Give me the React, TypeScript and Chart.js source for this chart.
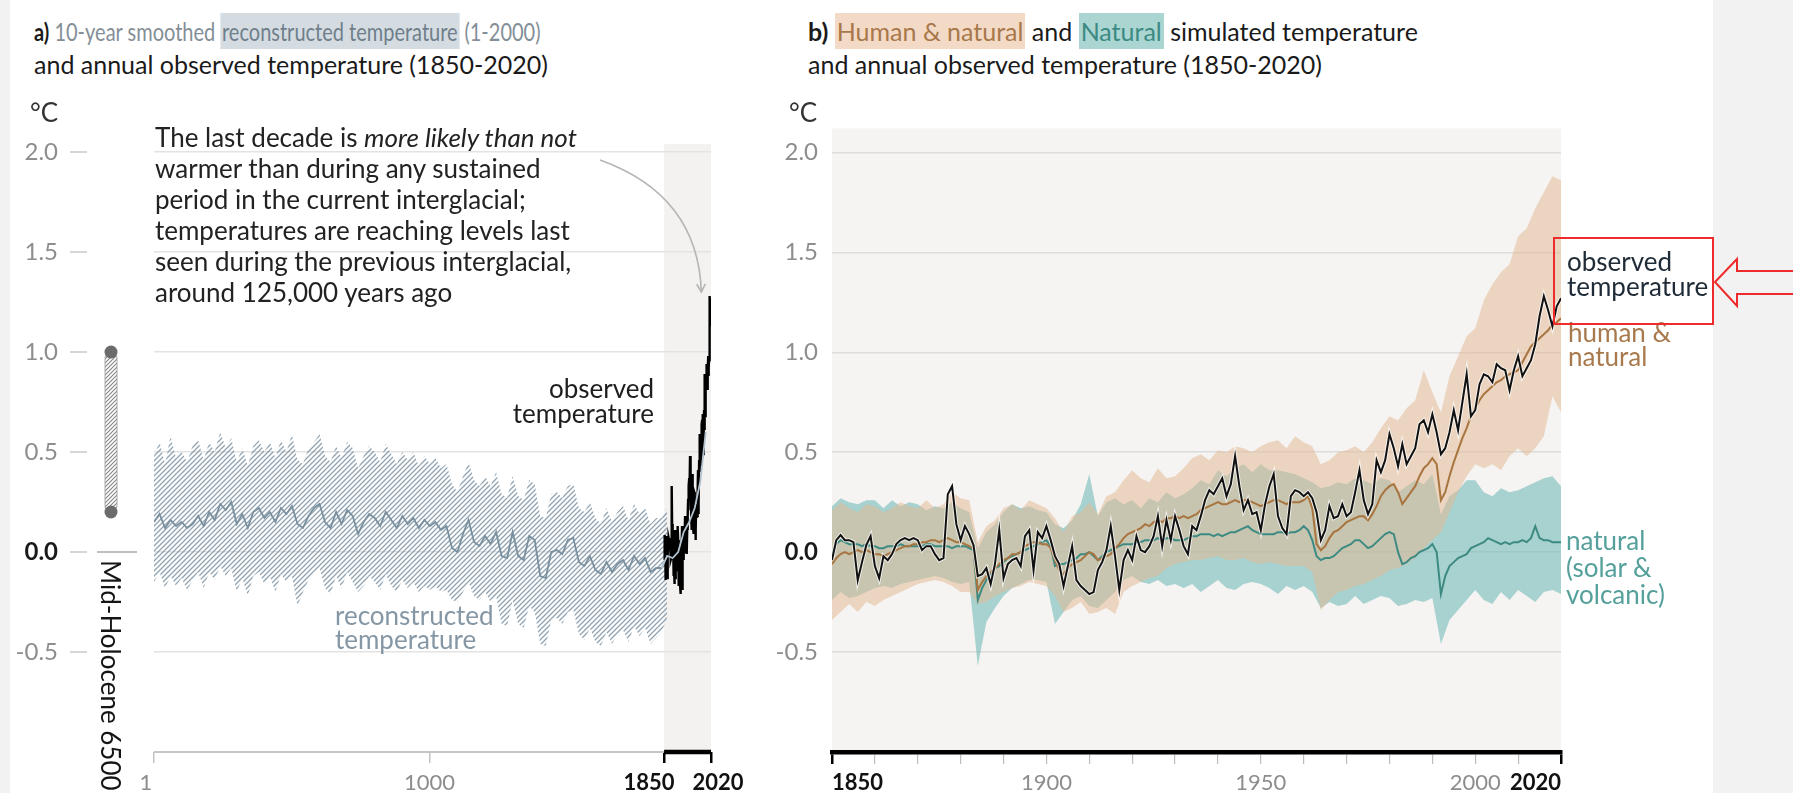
import React, { useEffect, useRef } from "react";
import { Chart, registerables } from "chart.js";

Chart.register(...registerables);

const FONT = "Lato, 'Open Sans', sans-serif";

// ---------- Panel a: 10-year smoothed reconstruction (every 20 years from year 1) ----------
const RECON_START = 1;
const RECON_STEP = 20;
const reconCenter = [
  0.15, 0.19, 0.12, 0.16, 0.13, 0.15, 0.12, 0.14, 0.18, 0.13,
  0.2, 0.16, 0.24, 0.21, 0.25, 0.14, 0.19, 0.12, 0.2, 0.22,
  0.17, 0.2, 0.15, 0.22, 0.19, 0.23, 0.14, 0.12, 0.18, 0.22,
  0.24, 0.15, 0.12, 0.2, 0.14, 0.21, 0.18, 0.09, 0.15, 0.19,
  0.17, 0.13, 0.2, 0.16, 0.12, 0.18, 0.14, 0.17, 0.12, 0.16,
  0.13, 0.15, 0.11, 0.13, 0.02, 0.0, 0.09, 0.16, 0.05, 0.03,
  0.08, 0.04, 0.1, -0.02, -0.03, 0.1, -0.02, -0.04, 0.08, 0.06,
  -0.12, -0.13, 0.0, 0.01, -0.01, 0.06, 0.07, -0.05, -0.07, -0.02,
  -0.09, -0.11, -0.05, -0.1, -0.06, -0.04, -0.09, -0.02, -0.06, -0.03,
  -0.1, -0.08, -0.08, -0.02, -0.03, 0.0, 0.1, 0.15, 0.22, 0.35, 0.6,
];
const reconUpper = [
  0.48, 0.55, 0.44, 0.58, 0.47, 0.5, 0.45, 0.53, 0.56, 0.46,
  0.55, 0.5, 0.6, 0.52, 0.57, 0.45, 0.52, 0.43, 0.53, 0.56,
  0.5, 0.55, 0.47, 0.56, 0.5, 0.59, 0.46, 0.44, 0.52, 0.55,
  0.59, 0.48, 0.45, 0.53, 0.47, 0.55, 0.52, 0.42, 0.48, 0.53,
  0.5, 0.45, 0.54, 0.49, 0.44, 0.5, 0.46, 0.5, 0.43, 0.48,
  0.44, 0.47, 0.42, 0.44, 0.34, 0.3, 0.38, 0.45, 0.36, 0.33,
  0.38, 0.33, 0.4, 0.29, 0.27, 0.38, 0.28, 0.26, 0.36, 0.34,
  0.18, 0.17, 0.29, 0.3, 0.27, 0.33, 0.34, 0.22, 0.2, 0.25,
  0.17, 0.14, 0.22, 0.15, 0.2, 0.23, 0.16, 0.24, 0.19, 0.22,
  0.14, 0.17, 0.17, 0.22,
];
const reconLower = [
  -0.15, -0.1, -0.18, -0.12, -0.17, -0.13, -0.19, -0.14, -0.1, -0.18,
  -0.1, -0.14, -0.07, -0.12, -0.08, -0.2, -0.13, -0.22, -0.12, -0.1,
  -0.16, -0.12, -0.2, -0.11, -0.15, -0.12, -0.27, -0.2, -0.14, -0.1,
  -0.08, -0.18, -0.21, -0.12, -0.18, -0.1, -0.15, -0.2, -0.17, -0.12,
  -0.15, -0.19, -0.11, -0.17, -0.2, -0.14, -0.18, -0.15, -0.2, -0.17,
  -0.19, -0.17, -0.2, -0.19, -0.24, -0.25, -0.2, -0.15, -0.22, -0.24,
  -0.2, -0.25, -0.22, -0.36, -0.37, -0.24, -0.36, -0.38, -0.27, -0.3,
  -0.46, -0.47, -0.34, -0.33, -0.36, -0.3, -0.29, -0.41, -0.44, -0.38,
  -0.45, -0.47, -0.4, -0.46, -0.41, -0.39, -0.45, -0.37, -0.42, -0.38,
  -0.46, -0.43, -0.4, -0.33,
];

// ---------- Annual series 1850-2020 ----------
const OBS_START = 1850;
const observed = [
  -0.04, 0.06, 0.085, 0.06, 0.06, 0.05, -0.14, -0.05, 0.035, 0.08,
  -0.07, -0.13, -0.02, -0.04, -0.01, 0.04, 0.06, 0.07, 0.06, 0.07,
  0.06, 0.01, 0.03, 0.03, -0.01, -0.04, -0.03, 0.29, 0.33, 0.14,
  0.06, 0.13, 0.09, 0.035, -0.12, -0.11, -0.08, -0.16, -0.06, 0.11,
  -0.13, -0.06, -0.04, -0.03, -0.07, 0.08, 0.11, -0.09, 0.1, 0.07,
  0.13, 0.06, -0.02, -0.06, -0.17, -0.07, 0.03, -0.14, -0.17, -0.19,
  -0.21, -0.2, -0.09, -0.05, 0.01, 0.13, -0.02, -0.19, -0.04, 0.01,
  -0.04, 0.08, 0.01, 0.0, 0.03, 0.08, 0.18, 0.03, 0.16, 0.06,
  0.18, 0.11, 0.03, -0.01, 0.13, 0.11, 0.18, 0.26, 0.31, 0.29,
  0.33, 0.37, 0.28, 0.34, 0.48, 0.33, 0.21, 0.26, 0.19, 0.2,
  0.11, 0.24, 0.33, 0.39, 0.18, 0.12, 0.09, 0.28, 0.31, 0.3,
  0.28, 0.3, 0.27, 0.2, 0.06, 0.11, 0.23, 0.17, 0.18, 0.24,
  0.18, 0.2, 0.3, 0.41, 0.26, 0.19, 0.24, 0.46, 0.4, 0.46,
  0.59, 0.52, 0.43, 0.54, 0.44, 0.48, 0.52, 0.64, 0.66, 0.6,
  0.69, 0.6, 0.49, 0.52, 0.6, 0.71, 0.61, 0.75, 0.89, 0.68,
  0.71, 0.84, 0.89, 0.88, 0.85, 0.94, 0.92, 0.91, 0.81, 0.91,
  0.98, 0.88, 0.92, 0.96, 1.04, 1.18, 1.28, 1.21, 1.13, 1.23,
  1.27,
];
const humanNatural = [
  -0.06, -0.03, -0.01, 0.0, -0.01, 0.0, 0.01, 0.0, 0.01, 0.0,
  -0.01, -0.01, -0.02, -0.01, 0.0, 0.01, 0.02, 0.03, 0.03, 0.04,
  0.04, 0.05, 0.05, 0.06, 0.06, 0.05, 0.06, 0.07, 0.06, 0.05,
  0.05, 0.04, 0.03, 0.02, -0.19, -0.15, -0.12, -0.1, -0.08, -0.06,
  -0.04, -0.03, -0.01, -0.01, 0.0, 0.03, 0.04, 0.05, 0.05, 0.04,
  0.04, 0.02, -0.04, -0.09, -0.11, -0.08, -0.06, -0.05, -0.04, -0.02,
  0.0, -0.01, -0.04, -0.03, -0.02, -0.01, 0.02, 0.04, 0.07, 0.09,
  0.1, 0.11, 0.12, 0.14, 0.13, 0.15, 0.16, 0.15, 0.17, 0.17,
  0.18, 0.17, 0.18, 0.17, 0.18, 0.19, 0.21, 0.22, 0.23, 0.24,
  0.25, 0.24, 0.24, 0.25, 0.26, 0.25, 0.26, 0.26, 0.25, 0.24,
  0.23, 0.24, 0.25, 0.26, 0.26, 0.25, 0.24, 0.25, 0.25, 0.25,
  0.26, 0.28, 0.22, 0.04, 0.01, 0.03, 0.07, 0.1, 0.11, 0.13,
  0.15, 0.16, 0.17, 0.18, 0.18, 0.16, 0.19, 0.23, 0.28, 0.31,
  0.33, 0.34, 0.3, 0.24, 0.27, 0.3, 0.33, 0.38, 0.42, 0.44,
  0.47, 0.44, 0.26, 0.3, 0.38, 0.45, 0.51, 0.57, 0.62, 0.68,
  0.72, 0.76, 0.79, 0.81, 0.83, 0.85, 0.86, 0.88, 0.89, 0.9,
  0.91, 0.95, 0.99, 1.03, 1.05, 1.07, 1.09, 1.11, 1.14, 1.15,
  1.17,
];
const naturalOnly = [
  -0.01, 0.04, 0.06, 0.05, 0.04, 0.04, 0.04, 0.03, 0.04, 0.03,
  0.03, 0.02, 0.02, 0.03, 0.03, 0.03, 0.04, 0.03, 0.03, 0.03,
  0.03, 0.03, 0.04, 0.04, 0.03, 0.03, 0.03, 0.03, 0.02, 0.03,
  0.03, 0.03, 0.02, 0.01, -0.24, -0.18, -0.14, -0.11, -0.08, -0.07,
  -0.05, -0.03, -0.02, -0.01, 0.0, 0.01, 0.02, 0.03, 0.04, 0.05,
  0.06, 0.03, -0.07, -0.06, -0.06, -0.05, -0.04, -0.03, -0.01, -0.01,
  0.0, -0.02, -0.04, -0.02, 0.0, 0.01, 0.02, 0.03, 0.04, 0.04,
  0.04, 0.05, 0.05, 0.06, 0.06, 0.06, 0.07, 0.06, 0.07, 0.07,
  0.06, 0.06, 0.06, 0.07, 0.08, 0.08, 0.09, 0.09, 0.09, 0.08,
  0.09, 0.08, 0.09, 0.1, 0.1, 0.11, 0.12, 0.13, 0.11, 0.1,
  0.09, 0.09, 0.09, 0.09, 0.1, 0.1, 0.09, 0.1, 0.1, 0.11,
  0.13, 0.11, 0.06, -0.02, -0.04, -0.03, -0.03, -0.02, 0.0, 0.02,
  0.03, 0.04, 0.06, 0.06, 0.04, 0.02, 0.03, 0.05, 0.07, 0.09,
  0.1, 0.09, 0.0, -0.06, -0.05, -0.03, -0.02, 0.0, 0.01, 0.02,
  0.04, 0.0, -0.21, -0.12, -0.07, -0.05, -0.03, -0.02, -0.01, 0.02,
  0.03, 0.04, 0.05, 0.07, 0.06, 0.05, 0.04, 0.05, 0.04, 0.05,
  0.05, 0.06, 0.05, 0.07, 0.13, 0.07, 0.06, 0.06, 0.05, 0.05,
  0.05,
];

// ---------- Simulation ranges (every 2 years 1850-2020) ----------
const BAND_STEP = 2;
const hnUpper = [
  0.21, 0.25, 0.22, 0.2, 0.24, 0.23, 0.2, 0.22, 0.25, 0.23,
  0.22, 0.26, 0.22, 0.24, 0.3, 0.27, 0.26, 0.05, 0.13, 0.16,
  0.22, 0.24, 0.21, 0.26, 0.24, 0.22, 0.17, 0.1, 0.18, 0.2,
  0.25, 0.19, 0.28, 0.3, 0.36, 0.41, 0.37, 0.35, 0.42, 0.37,
  0.38, 0.42, 0.47, 0.49, 0.46, 0.51, 0.5, 0.53, 0.52, 0.5,
  0.53, 0.55, 0.56, 0.52, 0.58, 0.55, 0.53, 0.44, 0.46, 0.5,
  0.51, 0.53, 0.5, 0.55, 0.62, 0.68, 0.66, 0.72, 0.76, 0.91,
  0.8, 0.7, 0.88, 0.98, 1.08, 1.12, 1.26, 1.34, 1.4, 1.44,
  1.58, 1.62, 1.72, 1.8, 1.88, 1.86,
];
const hnLower = [
  -0.34, -0.3, -0.26, -0.3, -0.25, -0.27, -0.24, -0.22, -0.2, -0.18,
  -0.16, -0.15, -0.14, -0.15, -0.17, -0.2, -0.2, -0.26, -0.25, -0.22,
  -0.2, -0.18, -0.17, -0.15, -0.16, -0.17, -0.22, -0.3, -0.28, -0.25,
  -0.31, -0.3, -0.28, -0.31, -0.2, -0.17, -0.15, -0.13, -0.12, -0.08,
  -0.06, -0.05, -0.04, -0.04, -0.03, -0.02, -0.04, -0.04, -0.03, -0.05,
  -0.06, -0.05, -0.06, -0.07, -0.07, -0.07, -0.1, -0.29, -0.24, -0.2,
  -0.19, -0.17, -0.16, -0.14, -0.12, -0.09, -0.08, -0.06, -0.03, 0.02,
  0.06, 0.1, 0.2, 0.3, 0.38, 0.44, 0.42, 0.44, 0.41, 0.48,
  0.52, 0.48, 0.52, 0.58, 0.78, 0.7,
];
const natUpper = [
  0.23, 0.27, 0.25, 0.24, 0.26, 0.26, 0.22, 0.26, 0.23, 0.25,
  0.24, 0.21, 0.23, 0.22, 0.25, 0.22, 0.2, 0.02, 0.1, 0.14,
  0.2, 0.24, 0.22, 0.23, 0.21, 0.2, 0.14, 0.12, 0.16, 0.24,
  0.39, 0.18, 0.25, 0.27, 0.24, 0.26, 0.22, 0.27, 0.25, 0.3,
  0.27, 0.29, 0.32, 0.36, 0.34, 0.41, 0.38, 0.42, 0.44, 0.4,
  0.44, 0.41, 0.41, 0.4, 0.39, 0.37, 0.35, 0.32, 0.33, 0.35,
  0.34, 0.37, 0.36, 0.34, 0.37, 0.36, 0.3, 0.33, 0.36, 0.34,
  0.39, 0.19, 0.28, 0.31, 0.36, 0.36, 0.3, 0.28, 0.32, 0.3,
  0.31, 0.33, 0.35, 0.37, 0.38, 0.33,
];
const natLower = [
  -0.24, -0.2, -0.23, -0.22, -0.2, -0.18, -0.17, -0.18, -0.16, -0.15,
  -0.14, -0.13, -0.12, -0.13, -0.15, -0.16, -0.15, -0.57, -0.35, -0.28,
  -0.22, -0.18, -0.16, -0.14, -0.14, -0.15, -0.36, -0.3, -0.24, -0.22,
  -0.27, -0.28, -0.24, -0.2, -0.14, -0.12, -0.15, -0.16, -0.14, -0.17,
  -0.16, -0.18, -0.16, -0.2, -0.17, -0.14, -0.18, -0.19, -0.16, -0.15,
  -0.16, -0.18, -0.21, -0.17, -0.19, -0.17, -0.2, -0.28, -0.25, -0.27,
  -0.26, -0.22, -0.26, -0.24, -0.22, -0.23, -0.27, -0.26, -0.24, -0.25,
  -0.23, -0.46, -0.34, -0.29, -0.24, -0.19, -0.24, -0.26, -0.2, -0.24,
  -0.19, -0.22, -0.25, -0.2, -0.19, -0.21,
];

// ---------- Axes ----------
const Y_MIN = -1.0;
const Y_MAX = 2.12;
const yTickValues = [-0.5, 0, 0.5, 1, 1.5, 2];
const aXTickValues = [1, 1000, 1850, 2020];
const aXTickLabels = ["1", "1000", "1850", "2020"];
const aXLabelShift = [-8, 0, -15, 7];
const bXTickValues = [1850, 1860, 1870, 1880, 1890, 1900, 1910, 1920, 1930, 1940, 1950, 1960, 1970, 1980, 1990, 2000, 2010, 2020];
const bXLabelValues = [1850, 1900, 1950, 2000, 2020];
const midHoloceneRange = [0.2, 1.0];

function pts(arr: number[], start: number, step: number) {
  return arr.map((y, i) => ({ x: start + i * step, y }));
}

function makeHatch(color: string, size: number, lw: number) {
  const c = document.createElement("canvas");
  c.width = size;
  c.height = size;
  const g = c.getContext("2d")!;
  g.strokeStyle = color;
  g.lineWidth = lw;
  g.beginPath();
  g.moveTo(-1, size + 1);
  g.lineTo(size + 1, -1);
  g.moveTo(-size / 2 - 1, size / 2 + 1);
  g.lineTo(size / 2 + 1, -size / 2 - 1);
  g.moveTo(size / 2 - 1, size * 1.5 + 1);
  g.lineTo(size * 1.5 + 1, size / 2 - 1);
  g.stroke();
  return g.createPattern(c, "repeat")!;
}

const yTickFont = (c: any) => ({ family: FONT, size: 24, weight: c.tick && c.tick.value === 0 ? "bold" : "normal" });
const yTickColor = (c: any) => (c.tick && c.tick.value === 0 ? "#1a1a1a" : "#8d8d8d");

export default function App() {
  const aRef = useRef<HTMLCanvasElement>(null);
  const bRef = useRef<HTMLCanvasElement>(null);

  useEffect(() => {
    const reconHatch = makeHatch("rgba(125,147,164,0.85)", 5, 1.3);
    const barHatch = makeHatch("rgba(120,120,120,0.9)", 4, 1.1);

    const panelAPlugin = {
      id: "panelA",
      beforeDraw(chart: any) {
        const { ctx, chartArea: ca, scales } = chart;
        const x = scales.x, y = scales.y;
        const x0 = x.getPixelForValue(1850), x1 = x.getPixelForValue(2020);
        const top = y.getPixelForValue(2.04);
        ctx.save();
        ctx.fillStyle = "#f3f2f1";
        ctx.fillRect(x0, top, x1 - x0, ca.bottom - top);
        ctx.restore();
      },
      afterDraw(chart: any) {
        const { ctx, chartArea: ca, scales } = chart;
        const x = scales.x, y = scales.y;
        ctx.save();
        const yb = ca.bottom;
        ctx.lineCap = "butt";
        ctx.strokeStyle = "#c6c6c6";
        ctx.lineWidth = 2;
        ctx.beginPath();
        ctx.moveTo(x.getPixelForValue(1), yb);
        ctx.lineTo(x.getPixelForValue(1850), yb);
        ctx.stroke();
        ctx.strokeStyle = "#000";
        ctx.lineWidth = 4.5;
        ctx.beginPath();
        ctx.moveTo(x.getPixelForValue(1850), yb);
        ctx.lineTo(x.getPixelForValue(2020), yb);
        ctx.stroke();
        ctx.textAlign = "center";
        ctx.textBaseline = "middle";
        aXTickValues.forEach((v, i) => {
          const bold = v >= 1850;
          ctx.font = `${bold ? "bold " : ""}22px ${FONT}`;
          ctx.fillStyle = bold ? "#111" : "#8d8d8d";
          ctx.fillText(aXTickLabels[i], x.getPixelForValue(v) + aXLabelShift[i], yb + 31);
        });
        ctx.strokeStyle = "#c8c8c8";
        ctx.lineWidth = 1.5;
        yTickValues.forEach((v) => {
          const py = y.getPixelForValue(v);
          ctx.beginPath();
          ctx.moveTo(70, py);
          ctx.lineTo(87, py);
          ctx.stroke();
        });
        const y0 = y.getPixelForValue(0);
        ctx.strokeStyle = "#aaaaaa";
        ctx.beginPath();
        ctx.moveTo(97, y0);
        ctx.lineTo(137, y0);
        ctx.stroke();
        const mx = 111;
        const yT = y.getPixelForValue(midHoloceneRange[1]);
        const yB = y.getPixelForValue(midHoloceneRange[0]);
        ctx.fillStyle = "#ffffff";
        ctx.beginPath();
        ctx.roundRect(mx - 6, yT, 12, yB - yT, 6);
        ctx.fill();
        ctx.fillStyle = barHatch;
        ctx.fill();
        ctx.strokeStyle = "rgba(150,150,150,0.8)";
        ctx.lineWidth = 1;
        ctx.stroke();
        ctx.fillStyle = "#6b6b6b";
        [yT, yB].forEach((py) => {
          ctx.beginPath();
          ctx.arc(mx, py, 6.5, 0, Math.PI * 2);
          ctx.fill();
        });
        const tipX = x.getPixelForValue(1985);
        const tipY = y.getPixelForValue(1.3);
        const sx = 600, sy = 60, cx = 698, cy = 95;
        ctx.strokeStyle = "#b5b5b5";
        ctx.lineWidth = 1.6;
        ctx.beginPath();
        ctx.moveTo(sx, sy);
        ctx.quadraticCurveTo(cx, cy, tipX, tipY);
        ctx.stroke();
        const ang = Math.atan2(tipY - cy, tipX - cx);
        ctx.beginPath();
        ctx.moveTo(tipX - 9 * Math.cos(ang - 0.5), tipY - 9 * Math.sin(ang - 0.5));
        ctx.lineTo(tipX, tipY);
        ctx.lineTo(tipX - 9 * Math.cos(ang + 0.5), tipY - 9 * Math.sin(ang + 0.5));
        ctx.stroke();
        ctx.restore();
      },
    };

    const panelBPlugin = {
      id: "panelB",
      beforeDraw(chart: any) {
        const { ctx, chartArea: ca } = chart;
        ctx.save();
        ctx.fillStyle = "#f5f4f2";
        ctx.fillRect(ca.left, ca.top, ca.right - ca.left, ca.bottom - ca.top);
        ctx.restore();
      },
    };

    const chartA = new Chart(aRef.current!, {
      type: "line",
      data: {
        datasets: [
          {
            label: "reconstructed",
            data: pts(reconCenter, RECON_START, RECON_STEP),
            borderColor: "#7a909f",
            borderWidth: 1.8,
            pointRadius: 0,
            fill: false,
            order: 0,
            segment: { borderColor: (c: any) => (c.p0.parsed.x >= 1841 ? "#b3c2cd" : undefined) },
          },
          {
            label: "observed",
            data: pts(observed, OBS_START, 1),
            borderColor: "#000",
            borderWidth: 2.4,
            pointRadius: 0,
            fill: false,
            order: 1,
          },
          {
            label: "recon upper",
            data: pts(reconUpper, RECON_START, RECON_STEP),
            borderWidth: 0,
            borderColor: "rgba(0,0,0,0)",
            backgroundColor: reconHatch,
            pointRadius: 0,
            fill: "+1",
            order: 2,
          },
          {
            label: "recon lower",
            data: pts(reconLower, RECON_START, RECON_STEP),
            borderWidth: 0,
            borderColor: "rgba(0,0,0,0)",
            pointRadius: 0,
            fill: false,
            order: 3,
          },
        ],
      } as any,
      options: {
        animation: false,
        responsive: false,
        maintainAspectRatio: false,
        layout: { padding: { left: 0, top: 28, right: 49, bottom: 0 }, autoPadding: false },
        plugins: { legend: { display: false }, tooltip: { enabled: false } },
        scales: {
          x: {
            type: "linear",
            min: 1,
            max: 2020,
            afterBuildTicks: (s: any) => {
              s.ticks = aXTickValues.map((v) => ({ value: v }));
            },
            afterFit: (s: any) => {
              s.height = 41;
            },
            border: { display: false },
            grid: {
              drawOnChartArea: false,
              drawTicks: true,
              tickLength: 11,
              color: (c: any) => (c.tick && c.tick.value >= 1850 ? "#000" : "#c2c2c2"),
              lineWidth: (c: any) => (c.tick && c.tick.value >= 1850 ? 2.5 : 1.5),
            },
            ticks: { display: false },
          },
          y: {
            type: "linear",
            min: Y_MIN,
            max: Y_MAX,
            afterBuildTicks: (s: any) => {
              s.ticks = yTickValues.map((v) => ({ value: v }));
            },
            afterFit: (s: any) => {
              s.width = 154;
            },
            border: { display: false },
            grid: { drawTicks: true, tickLength: 93, tickColor: "rgba(0,0,0,0)", color: "#e3e3e3", lineWidth: 1.5 },
            ticks: {
              padding: 3,
              callback: (v: any) => Number(v).toFixed(1),
              font: yTickFont,
              color: yTickColor,
            },
          },
        },
      } as any,
      plugins: [panelAPlugin],
    });

    const chartB = new Chart(bRef.current!, {
      type: "line",
      data: {
        datasets: [
          {
            label: "observed",
            data: pts(observed, OBS_START, 1),
            borderColor: "#111",
            borderWidth: 2,
            pointRadius: 0,
            fill: false,
            order: 0,
          },
          {
            label: "observed halo",
            data: pts(observed, OBS_START, 1),
            borderColor: "rgba(255,255,255,0.7)",
            borderWidth: 4,
            pointRadius: 0,
            fill: false,
            order: 1,
          },
          {
            label: "human & natural",
            data: pts(humanNatural, OBS_START, 1),
            borderColor: "#a8743f",
            borderWidth: 2,
            pointRadius: 0,
            fill: false,
            order: 2,
          },
          {
            label: "natural",
            data: pts(naturalOnly, OBS_START, 1),
            borderColor: "#3d8a83",
            borderWidth: 2,
            pointRadius: 0,
            fill: false,
            order: 3,
          },
          {
            label: "human & natural upper",
            data: pts(hnUpper, OBS_START, BAND_STEP),
            borderWidth: 0,
            borderColor: "rgba(0,0,0,0)",
            backgroundColor: "rgba(228,184,146,0.52)",
            pointRadius: 0,
            fill: "+1",
            order: 4,
          },
          {
            label: "human & natural lower",
            data: pts(hnLower, OBS_START, BAND_STEP),
            borderWidth: 0,
            borderColor: "rgba(0,0,0,0)",
            pointRadius: 0,
            fill: false,
            order: 5,
          },
          {
            label: "natural upper",
            data: pts(natUpper, OBS_START, BAND_STEP),
            borderWidth: 0,
            borderColor: "rgba(0,0,0,0)",
            backgroundColor: "rgba(115,187,183,0.6)",
            pointRadius: 0,
            fill: "+1",
            order: 6,
          },
          {
            label: "natural lower",
            data: pts(natLower, OBS_START, BAND_STEP),
            borderWidth: 0,
            borderColor: "rgba(0,0,0,0)",
            pointRadius: 0,
            fill: false,
            order: 7,
          },
        ],
      } as any,
      options: {
        animation: false,
        responsive: false,
        maintainAspectRatio: false,
        layout: { padding: { left: 0, top: 28, right: 19, bottom: 0 }, autoPadding: false },
        plugins: { legend: { display: false }, tooltip: { enabled: false } },
        scales: {
          x: {
            type: "linear",
            min: 1850,
            max: 2020,
            afterBuildTicks: (s: any) => {
              s.ticks = bXTickValues.map((v) => ({ value: v }));
            },
            afterFit: (s: any) => {
              s.height = 41;
            },
            border: { display: true, color: "#000", width: 4.5 },
            grid: {
              drawOnChartArea: false,
              drawTicks: true,
              tickLength: 12,
              color: (c: any) => (c.tick && (c.tick.value === 1850 || c.tick.value === 2020) ? "#000" : "#bcbcbc"),
              lineWidth: (c: any) => (c.tick && (c.tick.value === 1850 || c.tick.value === 2020) ? 2.5 : 1.2),
            },
            ticks: {
              autoSkip: false,
              maxRotation: 0,
              minRotation: 0,
              align: "inner",
              padding: 6,
              callback: (v: any) => (bXLabelValues.includes(Number(v)) ? String(v) : ""),
              font: (c: any) => ({
                family: FONT,
                size: 22,
                weight: c.tick && (c.tick.value === 1850 || c.tick.value === 2020) ? "bold" : "normal",
              }),
              color: (c: any) => (c.tick && (c.tick.value === 1850 || c.tick.value === 2020) ? "#111" : "#8d8d8d"),
            },
          },
          y: {
            type: "linear",
            min: Y_MIN,
            max: Y_MAX,
            afterBuildTicks: (s: any) => {
              s.ticks = yTickValues.map((v) => ({ value: v }));
            },
            afterFit: (s: any) => {
              s.width = 72;
            },
            border: { display: false },
            grid: { drawTicks: false, color: "#dcdcdc", lineWidth: 1.5 },
            ticks: {
              padding: 14,
              callback: (v: any) => Number(v).toFixed(1),
              font: yTickFont,
              color: yTickColor,
            },
          },
        },
      } as any,
      plugins: [panelBPlugin],
    });

    return () => {
      chartA.destroy();
      chartB.destroy();
    };
  }, []);

  const abs = (left: number, top: number, extra: any = {}) => ({
    position: "absolute" as const,
    left,
    top,
    whiteSpace: "pre" as const,
    fontSize: 26,
    ...extra,
  });

  return (
    <div
      style={{
        position: "fixed",
        left: 0,
        top: 0,
        width: 1793,
        height: 793,
        background: "#f2f2f2",
        overflow: "hidden",
        fontFamily: FONT,
        color: "#1a1a1a",
      }}
    >
      <div style={{ position: "absolute", left: 10, top: 0, width: 1703, height: 793, background: "#ffffff" }} />
      <canvas ref={aRef} width={760} height={693} style={{ position: "absolute", left: 0, top: 100, width: 760, height: 693 }} />
      <canvas ref={bRef} width={820} height={693} style={{ position: "absolute", left: 760, top: 100, width: 820, height: 693 }} />

      {/* Titles */}
      <div style={abs(34, 15, { lineHeight: "33px", fontSize: 25 })}>
        <span style={{ display: "inline-block", transform: "scaleX(0.8)", transformOrigin: "left center" }}>
          <b>a)</b>
          <span style={{ color: "#838e97" }}> 10-year smoothed </span>
          <span style={{ background: "#d5dce1", color: "#6e7f8b", padding: "3px 2px" }}>reconstructed temperature</span>
          <span style={{ color: "#838e97" }}> (1-2000)</span>
        </span>
        {"\n"}and annual observed temperature (1850-2020)
      </div>
      <div style={abs(808, 15, { lineHeight: "33px", fontSize: 25 })}>
        <b>b)</b>{" "}
        <span style={{ background: "#f3dac6", color: "#a8784b", padding: "3px 2px" }}>Human &amp; natural</span> and{" "}
        <span style={{ background: "#abd5d0", color: "#3c8a84", padding: "3px 2px" }}>Natural</span> simulated temperature
        {"\n"}and annual observed temperature (1850-2020)
      </div>

      {/* Units */}
      <div style={abs(30, 97, { lineHeight: "30px", color: "#333" })}>°C</div>
      <div style={abs(789, 97, { lineHeight: "30px", color: "#333" })}>°C</div>

      {/* Panel a annotations */}
      <div style={abs(155, 122, { lineHeight: "31px", color: "#222" })}>
        The last decade is <i>more likely than not</i>
        {"\n"}warmer than during any sustained
        {"\n"}period in the current interglacial;
        {"\n"}temperatures are reaching levels last
        {"\n"}seen during the previous interglacial,
        {"\n"}around 125,000 years ago
      </div>
      <div style={{ ...abs(0, 376, { lineHeight: "25px", color: "#1e1e1e", textAlign: "right" }), left: undefined, right: 1793 - 654 }}>
        observed{"\n"}temperature
      </div>
      <div style={abs(335, 603, { lineHeight: "24px", color: "#8597a5" })}>reconstructed{"\n"}temperature</div>
      <div
        style={abs(97, 560, {
          writingMode: "vertical-rl",
          lineHeight: "28px",
          color: "#151515",
        })}
      >
        Mid-Holocene 6500
      </div>

      {/* Panel b labels */}
      <div style={abs(1567, 249, { lineHeight: "25px", color: "#1f2b36" })}>observed{"\n"}temperature</div>
      <div style={abs(1568, 320, { lineHeight: "24px", color: "#a8794c" })}>human &amp;{"\n"}natural</div>
      <div style={abs(1566, 527, { lineHeight: "27px", color: "#55a09b" })}>natural{"\n"}(solar &amp;{"\n"}volcanic)</div>

      {/* Red highlight box and arrow */}
      <div
        style={{
          position: "absolute",
          left: 1553,
          top: 237,
          width: 161,
          height: 88,
          border: "2px solid #ee2a2a",
          boxSizing: "border-box",
        }}
      />
      <svg style={{ position: "absolute", left: 1700, top: 250, width: 93, height: 70, overflow: "visible" }}>
        <polygon points="15,32 37,9 37,21 96,21 96,44 37,44 37,56" fill="none" stroke="#ee2a2a" strokeWidth={2} />
      </svg>
    </div>
  );
}
